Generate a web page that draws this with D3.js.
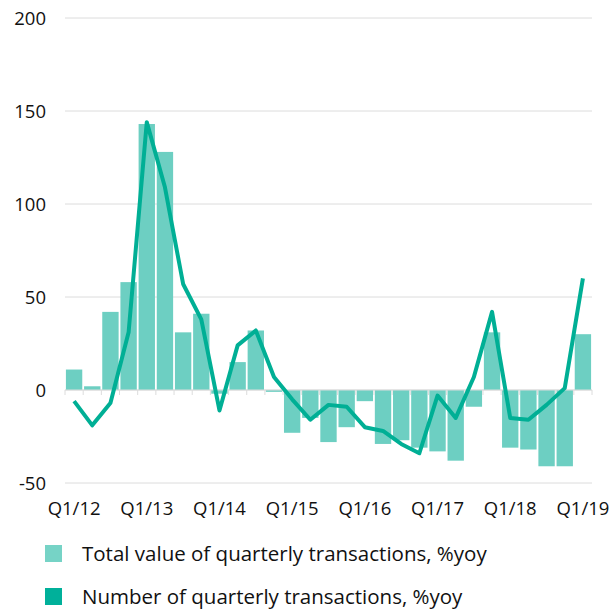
<!DOCTYPE html>
<html>
<head>
<meta charset="utf-8">
<script src="https://cdn.jsdelivr.net/npm/d3@7"></script>
<style>
  body { margin: 0; background: #fff; }
  svg text { font-family: "Open Sans", sans-serif; fill: #111; }
</style>
</head>
<body>
<svg id="chart" width="614" height="611"></svg>
<script>
// quarters Q1/12 .. Q1/19
const quarters = [];
for (let y = 12; y <= 19; y++) {
    for (let q = 1; q <= 4; q++) {
        if (y === 19 && q > 1) break;
        quarters.push(`Q${q}/${y}`);
    }
}

// Total value of quarterly transactions, %yoy (bars)
const totalValue = [11, 2, 42, 58, 143, 128, 31, 41, -2, 15, 32, -1,
    -23, -15, -28, -20, -6, -29, -27, -31, -33, -38, -9, 31,
    -31, -32, -41, -41, 30];

// Number of quarterly transactions, %yoy (line)
const numberTx = [-6, -19, -7, 31, 144, 109, 57, 38, -11, 24, 32, 7,
    -5, -16, -8, -9, -20, -22, -29, -34, -3, -15, 7, 42,
    -15, -16, -8, 1, 60];

const yTicks = [-50, 0, 50, 100, 150, 200];
const xTickLabels = ['Q1/12', 'Q1/13', 'Q1/14', 'Q1/15', 'Q1/16', 'Q1/17', 'Q1/18', 'Q1/19'];

const legendItems = [
    { label: 'Total value of quarterly transactions, %yoy', color: '#76d3c6' },
    { label: 'Number of quarterly transactions, %yoy', color: '#00b09a' }
];

const svg = d3.select('#chart');
const margin = { left: 65, right: 22, top: 18, bottom: 128 };
const width = 614 - margin.left - margin.right;
const height = 611 - margin.top - margin.bottom;

const g = svg.append('g').attr('transform', `translate(${margin.left},${margin.top})`);

const x = d3.scaleBand().domain(quarters).range([0, width]).paddingInner(0.1).paddingOuter(0.05);
const y = d3.scaleLinear().domain([-50, 200]).range([height, 0]);

// gridlines
g.append('g')
    .selectAll('line')
    .data(yTicks)
    .enter()
    .append('line')
    .attr('x1', 0)
    .attr('x2', width)
    .attr('y1', d => y(d))
    .attr('y2', d => y(d))
    .attr('stroke', '#dcdcdc')
    .attr('stroke-width', 1);

// y labels
g.append('g')
    .selectAll('text')
    .data(yTicks)
    .enter()
    .append('text')
    .attr('x', -19)
    .attr('y', d => y(d))
    .attr('dy', '0.36em')
    .attr('text-anchor', 'end')
    .attr('font-size', 18.5)
    .text(d => d);

// bars
g.append('g')
    .selectAll('rect')
    .data(totalValue)
    .enter()
    .append('rect')
    .attr('x', (d, i) => x(quarters[i]))
    .attr('width', x.bandwidth())
    .attr('y', d => y(Math.max(0, d)))
    .attr('height', d => Math.abs(y(d) - y(0)))
    .attr('fill', '#6dcfc2');

// zero axis with small ticks at band edges
const edges = d3.range(quarters.length + 1).map(i => i * (width / quarters.length));
g.append('line')
    .attr('x1', 0).attr('x2', width)
    .attr('y1', y(0)).attr('y2', y(0))
    .attr('stroke', '#dcdcdc');
g.append('g')
    .selectAll('line')
    .data(edges)
    .enter()
    .append('line')
    .attr('x1', d => d).attr('x2', d => d)
    .attr('y1', y(0)).attr('y2', y(0) + 5)
    .attr('stroke', '#dcdcdc');

// line
const line = d3.line()
    .x((d, i) => x(quarters[i]) + x.bandwidth() / 2)
    .y(d => y(d));
g.append('path')
    .datum(numberTx)
    .attr('d', line)
    .attr('fill', 'none')
    .attr('stroke', '#00af95')
    .attr('stroke-width', 4)
    .attr('stroke-linejoin', 'round');

// x labels
g.append('g')
    .selectAll('text')
    .data(xTickLabels)
    .enter()
    .append('text')
    .attr('x', d => x(d) + x.bandwidth() / 2)
    .attr('y', height + 32)
    .attr('text-anchor', 'middle')
    .attr('font-size', 18.5)
    .text(d => d);

// legend
const legend = svg.append('g').attr('transform', 'translate(45,545)');
legendItems.forEach((item, i) => {
    const row = legend.append('g').attr('transform', `translate(0,${i * 43})`);
    row.append('rect').attr('width', 17).attr('height', 17).attr('fill', item.color);
    row.append('text')
        .attr('x', 37)
        .attr('y', 16)
        .attr('font-size', 20.5)
        .text(item.label);
});
</script>
</body>
</html>
